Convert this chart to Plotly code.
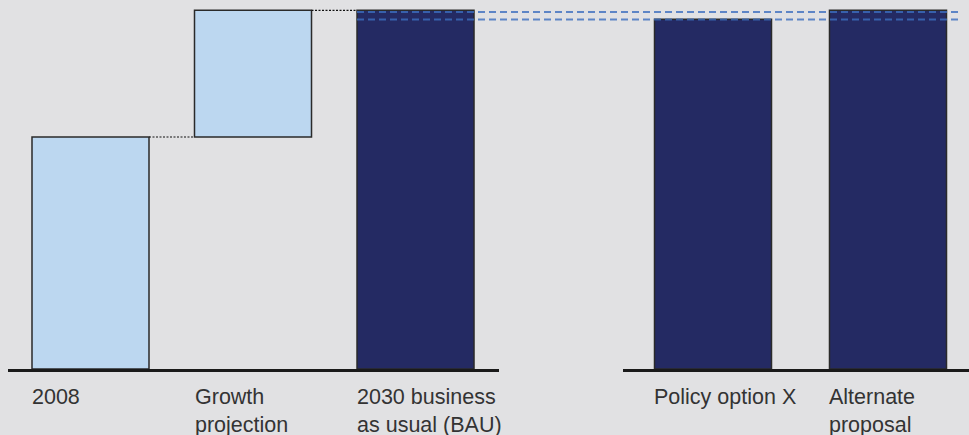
import plotly.graph_objects as go

# ---- data ----
left_categories = ["2008", "Growth<br>projection", "2030 business<br>as usual (BAU)"]
left_values = [100.0, 54.6, 154.6]
left_bases = [0.0, 100.0, 0.0]
right_categories = ["Policy option X", "Alternate<br>proposal"]
right_values = [150.7, 154.6]
reference_levels = [153.9, 150.6]

# ---- styles / layout ----
W, H = 969, 435
BG = "#e1e1e3"
LIGHT = "#bcd7f0"
NAVY = "#242a63"
EDGE = "#2a2a2a"
TEXT = "#333333"
FONT = "Arial, Liberation Sans, sans-serif"

left_px = (8, 499)
right_px = (623, 969)
left_range = [-0.5077, 2.5138]
right_range = [-0.5143, 1.4629]
w_left = 0.72
w_right = 0.6686
ymax = 159.05

def xpix(axis_px, axis_range, v):
    a0, a1 = axis_px
    r0, r1 = axis_range
    return a0 + (v - r0) / (r1 - r0) * (a1 - a0)

fig = go.Figure()
fig.add_trace(go.Bar(
    x=left_categories, y=left_values, base=left_bases,
    width=[w_left] * len(left_categories),
    marker=dict(color=[LIGHT, LIGHT, NAVY], line=dict(color=EDGE, width=1.5)),
    xaxis="x", yaxis="y", hoverinfo="skip", showlegend=False,
))
fig.add_trace(go.Bar(
    x=right_categories, y=right_values,
    width=[w_right] * len(right_categories),
    marker=dict(color=[NAVY, NAVY], line=dict(color=EDGE, width=1.5)),
    xaxis="x2", yaxis="y", hoverinfo="skip", showlegend=False,
))

shapes = []
# waterfall connectors
tops = [b + v for b, v in zip(left_bases, left_values)]
for i in range(len(left_categories) - 1):
    shapes.append(dict(type="line", xref="x", yref="y",
                       x0=i + w_left / 2, x1=i + 1 - w_left / 2,
                       y0=tops[i], y1=tops[i],
                       line=dict(color="#111111", width=1.2, dash="2px,1.5px")))
# dashed reference levels
x_start = xpix(left_px, left_range, 2 - w_left / 2) / W
x_end = (W - 7) / W
for lvl in reference_levels:
    shapes.append(dict(type="line", xref="paper", yref="y",
                       x0=x_start, x1=x_end, y0=lvl, y1=lvl,
                       line=dict(color="rgba(60,110,190,0.8)", width=2, dash="7px,4px")))

annotations = []
for i, c in enumerate(left_categories):
    annotations.append(dict(x=i, y=0, xref="x", yref="y", text=c, showarrow=False,
                            xanchor="left", yanchor="top", align="left", borderpad=0,
                            xshift=-w_left * 162.5 / 2 - 1, yshift=-15,
                            font=dict(family=FONT, size=21.5, color=TEXT)))
for i, c in enumerate(right_categories):
    annotations.append(dict(x=i, y=0, xref="x2", yref="y", text=c, showarrow=False,
                            xanchor="left", yanchor="top", align="left", borderpad=0,
                            xshift=-w_right * 175 / 2 - 1, yshift=-15,
                            font=dict(family=FONT, size=21.5, color=TEXT)))

axis_common = dict(showgrid=False, zeroline=False, showticklabels=False, ticks="",
                   showline=True, linecolor="#1a1a1a", linewidth=3, fixedrange=True)
fig.update_layout(
    width=W, height=H,
    margin=dict(l=0, r=0, t=0, b=66),
    paper_bgcolor=BG, plot_bgcolor=BG,
    xaxis=dict(domain=[left_px[0] / W, left_px[1] / W], range=left_range,
               type="category", anchor="y", **axis_common),
    xaxis2=dict(domain=[right_px[0] / W, right_px[1] / W], range=right_range,
                type="category", anchor="y", **axis_common),
    yaxis=dict(range=[0, ymax], showgrid=False, zeroline=False, showticklabels=False,
               showline=False, ticks="", fixedrange=True),
    shapes=shapes, annotations=annotations,
    font=dict(family=FONT),
    showlegend=False,
)
fig.write_html("out.html", config={"displayModeBar": False},
               post_script="document.body.style.margin='0';document.body.style.background='#e1e1e3';")
